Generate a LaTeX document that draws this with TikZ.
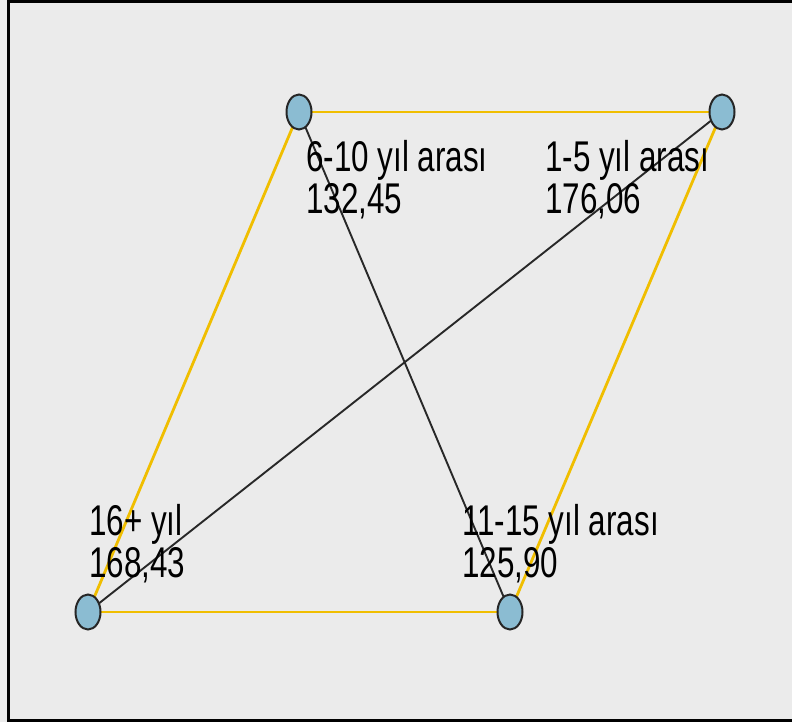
\documentclass[tikz,border=0pt]{standalone}
\usepackage{fontspec}
\newfontfamily\lblfont[FakeStretch=0.73]{Liberation Sans}
\definecolor{bgc}{RGB}{235,235,235}
\definecolor{nodefill}{RGB}{139,188,210}
\definecolor{edgey}{RGB}{240,190,0}
\definecolor{edgek}{RGB}{40,40,40}
\tikzset{
  vert/.style={ellipse, draw=black!85, fill=nodefill, line width=2pt, minimum width=25pt, minimum height=35pt, inner sep=0pt},
  yedge/.style={draw=edgey, line width=2.8pt},
  kedge/.style={draw=edgek, line width=1.9pt},
  lbl/.style={anchor=base west, inner sep=0pt, align=left, font=\lblfont\fontsize{43}{42}\selectfont, text=black}
}
\usetikzlibrary{shapes.geometric}
\begin{document}
\begin{tikzpicture}[x=1pt,y=-1pt]
\useasboundingbox (0,0) rectangle (792,722);
\fill[bgc] (0,0) rectangle (792,722);
\draw[line width=3.2pt, black] (8.6,1.6) rectangle (800,720.4);
\coordinate (pA) at (299,112);
\coordinate (pB) at (722,112);
\coordinate (pC) at (88,612);
\coordinate (pD) at (510,612);
\draw[yedge] (pA) -- (pB);
\draw[yedge] (pA) -- (pC);
\draw[yedge] (pB) -- (pD);
\draw[yedge] (pC) -- (pD);
\draw[kedge] (pA) -- (pD);
\draw[kedge] (pB) -- (pC);
\node[vert] (a) at (pA) {};
\node[vert] (b) at (pB) {};
\node[vert] (c) at (pC) {};
\node[vert] (d) at (pD) {};
\node[lbl] (la) at (306,213) {6-10 yıl arası\\132,45};
\node[lbl] (lb) at (545,213) {1-5 yıl arası\\176,06};
\node[lbl] (lc) at (89,577) {16+ yıl\\168,43};
\node[lbl] (ld) at (462,577) {11-15 yıl arası\\125,90};
\end{tikzpicture}
\end{document}
